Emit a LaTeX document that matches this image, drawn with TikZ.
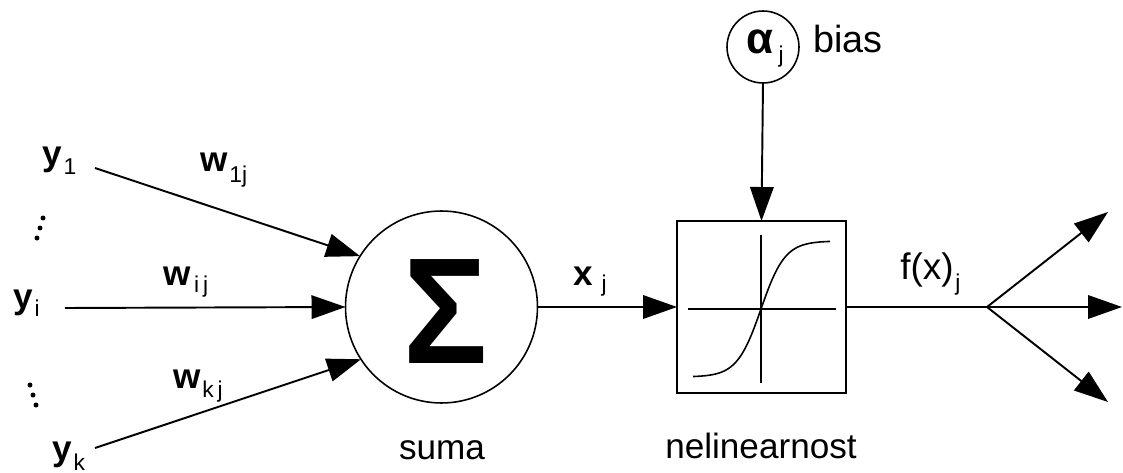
\documentclass[tikz,border=0pt]{standalone}
\usepackage{fontspec}
\setmainfont{Liberation Sans}
\usetikzlibrary{arrows.meta}
\newcommand\mainsz{\fontsize{20}{20}\selectfont}
\newcommand\subsz{\normalfont\fontsize{13}{13}\selectfont}
\newcommand\sbs[2][0.17cm]{\raisebox{-#1}{\subsz #2}}
\begin{document}
\begin{tikzpicture}[x=0.02cm,y=-0.02cm,
  lw/.style={line width=1.1pt},
  thin line/.style={line width=0.9pt},
  arr/.style={lw,-{Triangle[length=0.68cm,width=0.47cm]}},
  lbl/.style={anchor=base west,inner sep=0,font=\mainsz},
  blbl/.style={lbl,font=\mainsz\bfseries},
  ctr/.style={anchor=base,inner sep=0,font=\mainsz},
  dotn/.style={circle,fill,inner sep=0,minimum size=0.1cm},
]
\useasboundingbox (0,0) rectangle (1123,473);

% summation circle
\node[circle,draw,thin line,minimum size=3.84cm,inner sep=0,outer sep=0] (sum) at (441.5,307) {};
\node[inner sep=0] (sigma) at (445.5,311.5) {\scalebox{0.93}[1]{\fontsize{86}{86}\selectfont\bfseries Σ}};
\node[ctr] (suma) at (442,459) {suma};

% nonlinearity box
\node[draw,lw,minimum width=3.38cm,minimum height=3.44cm,inner sep=0,outer sep=0] (box) at (761.5,307) {};
\draw[thin line] (688,309) -- (836,309);
\draw[thin line] (761,235) -- (761,383);
\draw[thin line] plot[domain=-68:69,samples=80,smooth] ({761+\x},{309-68*tanh(\x/24)});
\node[ctr] (nel) at (761,458) {nelinearnost};

% bias
\node[circle,draw,thin line,minimum size=1.44cm,inner sep=0,outer sep=0] (alpha) at (763,47) {};
\node[lbl,font=\fontsize{25}{25}\selectfont\bfseries] (alphat) at (746,54) {α\kern3pt\sbs[0.18cm]{j}};
\node[lbl,font=\fontsize{21.5}{21.5}\selectfont] (bias) at (813,53) {bias};
\draw[arr] (alpha.south) -- (box.north);

% inputs
\node[blbl] (y1) at (42,166) {y\kern1pt\sbs[0.18cm]{1}};
\node[blbl] (yi) at (13,308) {y\kern1pt\sbs[0.18cm]{i}};
\node[blbl] (yk) at (52,460) {y\kern1pt\sbs[0.2cm]{k}};
\node[blbl] (w1) at (200,172) {w\kern1pt\sbs[0.22cm]{1j}};
\node[blbl] (wi) at (163,285) {w\kern2pt\sbs[0.15cm]{i\,j}};
\node[blbl] (wk) at (173,388) {w\kern1pt\sbs[0.2cm]{k\,j}};
\node[dotn] (da1) at (43,218) {};
\node[dotn] (da2) at (40,228) {};
\node[dotn] (da3) at (37,238) {};
\node[dotn] (db1) at (30,385) {};
\node[dotn] (db2) at (33,395) {};
\node[dotn] (db3) at (36,405) {};
\coordinate (in1) at (95,168);
\coordinate (ini) at (65,308);
\coordinate (ink) at (95,448);
\draw[arr] (in1) -- (sum.148);
\draw[arr] (ini) -- (sum.west);
\draw[arr] (ink) -- (sum.213);

% sum to box
\node[blbl] (xj) at (573,285) {x\kern5pt\sbs[0.14cm]{j}};
\draw[arr] (sum.east) -- (box.west);

% outputs
\node[lbl,font=\fontsize{21}{21}\selectfont] (fx) at (900,279) {f(x)\kern1pt\sbs[0.24cm]{j}};
\coordinate (br) at (987,307);
\coordinate (out1) at (1108,212);
\coordinate (out2) at (1122,307);
\coordinate (out3) at (1108,402);
\draw[lw] (box.east) -- (br);
\draw[arr] (br) -- (out1);
\draw[arr] (br) -- (out2);
\draw[arr] (br) -- (out3);
\end{tikzpicture}
\end{document}
